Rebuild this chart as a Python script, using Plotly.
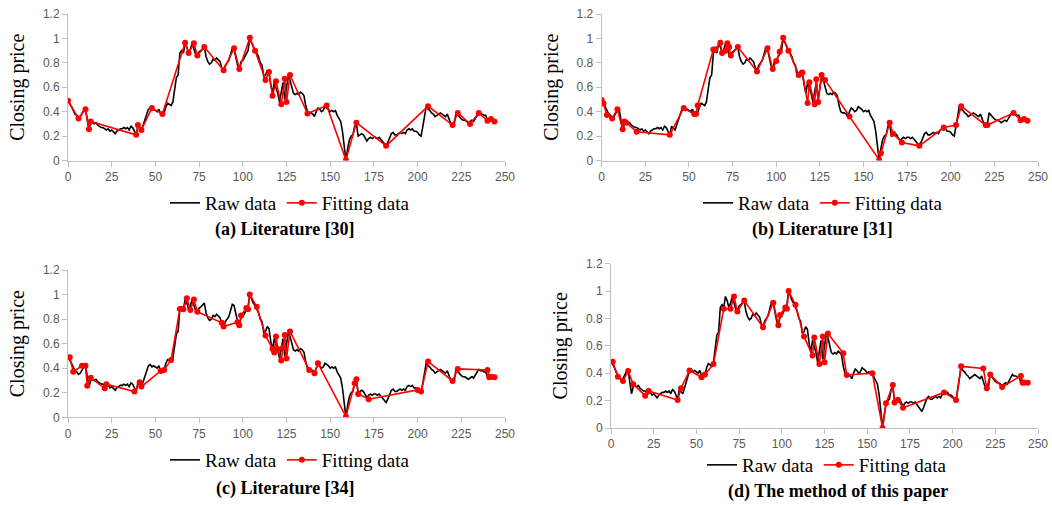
import plotly.graph_objects as go

# ---------------- data ----------------
raw_x = list(range(245))
raw_y = [
    0.49, 0.47, 0.44, 0.41, 0.38, 0.37, 0.35, 0.36, 0.39, 0.41,  # 0-9
    0.42, 0.33, 0.25, 0.30, 0.31, 0.30, 0.31, 0.29, 0.28, 0.27,  # 10-19
    0.27, 0.26, 0.25, 0.26, 0.24, 0.25, 0.23, 0.22, 0.24, 0.25,  # 20-29
    0.26, 0.26, 0.27, 0.26, 0.27, 0.25, 0.28, 0.27, 0.24, 0.21,  # 30-39
    0.28, 0.26, 0.25, 0.29, 0.33, 0.37, 0.42, 0.43, 0.41, 0.42,  # 40-49
    0.41, 0.40, 0.42, 0.38, 0.37, 0.39, 0.44, 0.47, 0.46, 0.45,  # 50-59
    0.48, 0.60, 0.68, 0.70, 0.88, 0.90, 0.88, 0.96, 0.93, 0.88,  # 60-69
    0.91, 0.96, 0.92, 0.87, 0.86, 0.89, 0.90, 0.92, 0.93, 0.85,  # 70-79
    0.81, 0.79, 0.80, 0.83, 0.82, 0.84, 0.82, 0.81, 0.76, 0.74,  # 80-89
    0.78, 0.80, 0.82, 0.87, 0.92, 0.91, 0.84, 0.78, 0.75, 0.81,  # 90-99
    0.82, 0.85, 0.88, 0.90, 1.00, 0.96, 0.93, 0.91, 0.88, 0.85,  # 100-109
    0.80, 0.78, 0.69, 0.70, 0.74, 0.72, 0.62, 0.55, 0.64, 0.60,  # 110-119
    0.55, 0.48, 0.55, 0.64, 0.50, 0.62, 0.69, 0.66, 0.60, 0.55,  # 120-129
    0.54, 0.55, 0.54, 0.56, 0.55, 0.53, 0.45, 0.40, 0.39, 0.39,  # 130-139
    0.38, 0.36, 0.40, 0.43, 0.42, 0.40, 0.41, 0.44, 0.43, 0.42,  # 140-149
    0.40, 0.41, 0.40, 0.41, 0.37, 0.35, 0.32, 0.24, 0.10, 0.00,  # 150-159
    0.10, 0.17, 0.20, 0.21, 0.28, 0.30, 0.20, 0.21, 0.22, 0.21,  # 160-169
    0.19, 0.16, 0.18, 0.19, 0.18, 0.19, 0.19, 0.18, 0.19, 0.17,  # 170-179
    0.15, 0.14, 0.12, 0.15, 0.18, 0.22, 0.23, 0.21, 0.21, 0.22,  # 180-189
    0.23, 0.22, 0.23, 0.22, 0.25, 0.26, 0.25, 0.26, 0.24, 0.24,  # 190-199
    0.23, 0.21, 0.20, 0.28, 0.38, 0.45, 0.42, 0.41, 0.39, 0.38,  # 200-209
    0.36, 0.37, 0.38, 0.39, 0.38, 0.37, 0.36, 0.38, 0.34, 0.30,  # 210-219
    0.29, 0.30, 0.39, 0.37, 0.35, 0.34, 0.33, 0.33, 0.32, 0.31,  # 220-229
    0.32, 0.33, 0.32, 0.34, 0.36, 0.39, 0.38, 0.38, 0.37, 0.37,  # 230-239
    0.33, 0.34, 0.33, 0.33, 0.32,                                # 240-244
]

fit_a_x = [0, 6, 10, 12, 13, 39, 40, 42, 48, 54, 67, 69, 72, 74, 78, 89, 95, 98,
           104, 107, 113, 115, 117, 119, 122, 124, 125, 127, 137, 148, 159, 165,
           182, 206, 220, 223, 230, 235, 240, 242, 244]
fit_a_y = [0.49, 0.345, 0.42, 0.255, 0.32, 0.21, 0.29, 0.25, 0.43, 0.38, 0.965,
           0.88, 0.96, 0.86, 0.93, 0.74, 0.92, 0.75, 1.005, 0.90, 0.66, 0.725,
           0.53, 0.65, 0.46, 0.67, 0.48, 0.70, 0.385, 0.45, 0.005, 0.31, 0.12,
           0.445, 0.29, 0.39, 0.30, 0.39, 0.325, 0.34, 0.32]

fit_b_x = [0, 1, 3, 6, 9, 12, 13, 14, 20, 39, 47, 53, 54, 55, 64, 65, 68, 69,
           71, 72, 73, 74, 78, 89, 95, 98, 100, 102, 104, 107, 113, 115, 118,
           119, 122, 123, 124, 126, 128, 142, 159, 160, 165, 167, 172, 182, 196,
           203, 206, 220, 221, 236, 240, 242, 244]
fit_b_y = [0.495, 0.467, 0.372, 0.345, 0.42, 0.255, 0.32, 0.31, 0.236, 0.21,
           0.43, 0.38, 0.38, 0.45, 0.91, 0.91, 0.965, 0.88, 0.90, 0.96, 0.93,
           0.86, 0.93, 0.73, 0.92, 0.75, 0.815, 0.89, 1.005, 0.90, 0.70, 0.72,
           0.47, 0.64, 0.46, 0.666, 0.48, 0.70, 0.66, 0.36, 0.005, 0.06, 0.31,
           0.22, 0.147, 0.12, 0.27, 0.29, 0.445, 0.29, 0.29, 0.39, 0.33, 0.34,
           0.326]

fit_c_x = [1, 3, 8, 10, 11, 13, 21, 22, 38, 41, 42, 53, 55, 59, 64, 66, 68, 70,
           72, 74, 88, 89, 97, 98, 99, 102, 103, 104, 108, 113, 117, 118, 119,
           120, 122, 123, 124, 125, 127, 138, 141, 143, 159, 164, 165, 166, 172,
           200, 202, 206, 220, 223, 240, 241, 242, 244]
fit_c_y = [0.49, 0.372, 0.42, 0.42, 0.258, 0.323, 0.236, 0.27, 0.21, 0.285,
           0.25, 0.378, 0.386, 0.467, 0.883, 0.88, 0.97, 0.875, 0.96, 0.86,
           0.77, 0.74, 0.775, 0.75, 0.83, 0.89, 0.88, 1.0, 0.90, 0.666, 0.557,
           0.527, 0.658, 0.557, 0.462, 0.568, 0.671, 0.48, 0.70, 0.386, 0.359,
           0.44, 0.005, 0.277, 0.31, 0.19, 0.147, 0.223, 0.21, 0.454, 0.296,
           0.394, 0.386, 0.326, 0.33, 0.326]

fit_d_x = [1, 4, 7, 10, 13, 20, 22, 39, 41, 46, 53, 55, 60, 66, 70, 72, 74, 78,
           89, 95, 98, 99, 102, 103, 104, 108, 113, 118, 119, 122, 124, 125,
           127, 136, 138, 153, 159, 161, 165, 166, 168, 171, 195, 202, 205, 218,
           220, 222, 229, 240, 241, 242, 244]
fit_d_y = [0.484, 0.375, 0.343, 0.416, 0.32, 0.236, 0.27, 0.204, 0.29, 0.42,
           0.37, 0.39, 0.467, 0.87, 0.87, 0.96, 0.85, 0.93, 0.735, 0.915, 0.75,
           0.825, 0.88, 0.87, 1.0, 0.90, 0.667, 0.53, 0.66, 0.467, 0.667, 0.48,
           0.69, 0.545, 0.387, 0.40, 0.0, 0.18, 0.314, 0.187, 0.204, 0.148,
           0.26, 0.204, 0.45, 0.435, 0.29, 0.39, 0.30, 0.38, 0.33, 0.333, 0.33]

captions = ["(a) Literature [30]", "(b) Literature [31]",
            "(c) Literature [34]", "(d) The method of this paper"]
x_ticks = [0, 25, 50, 75, 100, 125, 150, 175, 200, 225, 250]
y_ticks = [0, 0.2, 0.4, 0.6, 0.8, 1, 1.2]

# ---------------- layout geometry ----------------
W, H = 1052, 505
def px_x(p): return p / W
def px_y(p): return 1 - p / H

panels = [
    dict(x=(68, 505), y=(14, 160.5), lx=290, ly=203, cx=285, cy=230),
    dict(x=(601.7, 1038), y=(14, 160.5), lx=823, ly=203, cx=822, cy=230),
    dict(x=(68, 505), y=(270, 417.3), lx=290, ly=460, cx=285, cy=488),
    dict(x=(611, 1038), y=(263.6, 428), lx=827, ly=465, cx=838, cy=491),
]
fits = [(fit_a_x, fit_a_y), (fit_b_x, fit_b_y), (fit_c_x, fit_c_y), (fit_d_x, fit_d_y)]

fig = go.Figure()
axis_color = "#bfbfbf"
tick_font = dict(family="Liberation Sans, Arial, sans-serif", size=12, color="#595959")
serif = "Liberation Serif, Times New Roman, serif"

annotations = []
for i, (p, (fx, fy)) in enumerate(zip(panels, fits)):
    n = "" if i == 0 else str(i + 1)
    leg = "legend" if i == 0 else f"legend{i + 1}"
    fig.add_trace(go.Scatter(x=raw_x, y=raw_y, mode="lines", name="Raw data",
                             line=dict(color="black", width=1.6),
                             xaxis="x" + n, yaxis="y" + n, legend=leg))
    fig.add_trace(go.Scatter(x=fx, y=fy, mode="lines+markers", name="Fitting data",
                             line=dict(color="#ff0000", width=1.6),
                             marker=dict(color="#ff0000", size=6),
                             xaxis="x" + n, yaxis="y" + n, legend=leg))
    xa = dict(domain=[px_x(p["x"][0]), px_x(p["x"][1])], range=[0, 250],
              tickvals=x_ticks, showgrid=False, zeroline=False,
              showline=True, linecolor=axis_color, linewidth=1,
              ticks="outside", tickcolor=axis_color, ticklen=5,
              tickfont=tick_font, anchor="y" + n, fixedrange=True,
              automargin=False)
    ya = dict(domain=[px_y(p["y"][1]), px_y(p["y"][0])], range=[0, 1.2],
              tickvals=y_ticks, showgrid=False, zeroline=False,
              showline=True, linecolor=axis_color, linewidth=1,
              ticks="outside", tickcolor=axis_color, ticklen=5,
              tickfont=tick_font, anchor="x" + n, fixedrange=True,
              automargin=False,
              title=dict(text="Closing price", font=dict(family=serif, size=20, color="black"),
                         standoff=12))
    fig.update_layout(**{"xaxis" + n: xa, "yaxis" + n: ya})
    fig.update_layout(**{leg: dict(orientation="h", x=px_x(p["lx"]), y=px_y(p["ly"]),
                                   xanchor="center", yanchor="middle",
                                   font=dict(family=serif, size=19, color="black"),
                                   bgcolor="rgba(0,0,0,0)", itemwidth=30,
                                   tracegroupgap=0)})
    annotations.append(dict(text="<b>" + captions[i] + "</b>", xref="paper", yref="paper",
                            x=px_x(p["cx"]), y=px_y(p["cy"]), xanchor="center",
                            yanchor="middle", showarrow=False,
                            font=dict(family=serif, size=18, color="black")))

fig.update_layout(width=W, height=H, margin=dict(l=0, r=0, t=0, b=0, autoexpand=False),
                  paper_bgcolor="white", plot_bgcolor="white",
                  annotations=annotations, showlegend=True)
fig.write_html("out.html", config={"displayModeBar": False},
               post_script="document.body.style.margin='0';document.body.style.overflow='hidden';")
